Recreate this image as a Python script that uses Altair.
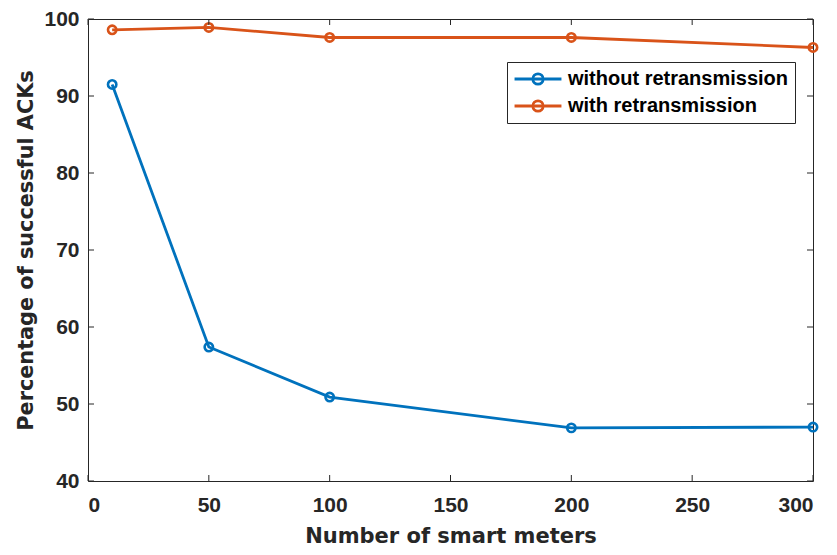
import altair as alt
import pandas as pd

meters = [10, 50, 100, 200, 300]
without_retx = [91.5, 57.4, 50.9, 46.9, 47.0]
with_retx = [98.6, 98.9, 97.6, 97.6, 96.3]
series_names = ["without retransmission", "with retransmission"]
colors = ["#0072BD", "#D95319"]
x_ticks = [0, 50, 100, 150, 200, 250, 300]
y_ticks = [40, 50, 60, 70, 80, 90, 100]

W, H = 725, 462
FONT = "Liberation Sans"
TFONT = "DejaVu Sans"
AX = "#262626"

rows = []
for m, v in zip(meters, without_retx):
    rows.append({"meters": m, "value": v, "series": series_names[0]})
for m, v in zip(meters, with_retx):
    rows.append({"meters": m, "value": v, "series": series_names[1]})
df = pd.DataFrame(rows)

xscale = alt.Scale(domain=[0, 300], nice=False, zero=False)
yscale = alt.Scale(domain=[40, 100], nice=False, zero=False)

legend_path = "M-1,0L1,0M0.22,0A0.22,0.22 0 1,1 -0.22,0A0.22,0.22 0 1,1 0.22,0Z"

xaxis = alt.Axis(values=x_ticks, ticks=False, domain=False, grid=False,
                 labelPadding=13, titlePadding=10, labelFontSize=21, titleFontSize=21,
                 title="Number of smart meters")
yaxis = alt.Axis(values=y_ticks, ticks=False, domain=False, grid=False,
                 labelPadding=9, titlePadding=7, labelFontSize=21, titleFontSize=20.8,
                 title="Percentage of successful ACKs")

lines = alt.Chart(df).mark_line(
    strokeWidth=2.8,
    point=alt.OverlayMarkDef(filled=False, size=70, strokeWidth=2.6),
).encode(
    x=alt.X("meters:Q", scale=xscale, axis=xaxis),
    y=alt.Y("value:Q", scale=yscale, axis=yaxis),
    color=alt.Color("series:N",
                    scale=alt.Scale(domain=series_names, range=colors),
                    sort=series_names,
                    legend=alt.Legend(
                        title=None, orient="none", legendX=419, legendY=43,
                        strokeColor=AX, fillColor="white", padding=6,
                        symbolType=legend_path, symbolSize=2200,
                        symbolStrokeWidth=2.8, clipHeight=22, labelLimit=400,
                        labelFont=FONT, labelFontSize=20, labelFontWeight="bold",
                        labelColor="black", labelOffset=5, rowPadding=5,
                    )),
)

xt = pd.DataFrame({"meters": x_ticks})
yt = pd.DataFrame({"value": y_ticks})

xb = alt.Chart(xt).mark_rule(color=AX, strokeWidth=1).encode(
    x=alt.X("meters:Q", scale=xscale, axis=xaxis), y=alt.value(H), y2=alt.value(H - 6))
xtp = alt.Chart(xt).mark_rule(color=AX, strokeWidth=1).encode(
    x=alt.X("meters:Q", scale=xscale, axis=xaxis), y=alt.value(0), y2=alt.value(6))
yl = alt.Chart(yt).mark_rule(color=AX, strokeWidth=1).encode(
    y=alt.Y("value:Q", scale=yscale, axis=yaxis), x=alt.value(0), x2=alt.value(6))
yr = alt.Chart(yt).mark_rule(color=AX, strokeWidth=1).encode(
    y=alt.Y("value:Q", scale=yscale, axis=yaxis), x=alt.value(W), x2=alt.value(W - 6))

chart = alt.layer(lines, xb, xtp, yl, yr).properties(
    width=W, height=H,
    autosize=alt.AutoSizeParams(type="none"),
    padding={"left": 80, "top": 11, "right": 16, "bottom": 66},
    background="white",
).configure_view(
    stroke=AX, strokeWidth=1
).configure_axis(
    labelFont=FONT, labelFontWeight="bold", labelColor=AX,
    titleFont=TFONT, titleFontWeight="bold", titleColor=AX,
)

chart.save("out.html", embed_options={"renderer": "svg", "actions": False})
